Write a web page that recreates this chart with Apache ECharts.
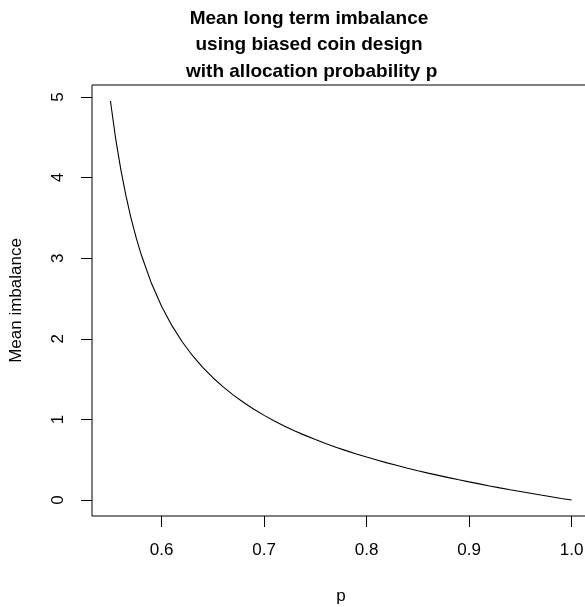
<!DOCTYPE html>
<html>
<head>
<meta charset="utf-8">
<script src="https://cdn.jsdelivr.net/npm/echarts@6/dist/echarts.min.js"></script>
<style>html,body{margin:0;padding:0;background:#fff}#c{width:585px;height:607px}</style>
</head>
<body>
<div id="c"></div>
<script>
var titleLines = ["Mean long term imbalance", "using biased coin design", " with allocation probability p"];
var xLabel = "p";
var yLabel = "Mean imbalance";
var xTicks = [0.6, 0.7, 0.8, 0.9, 1.0];
var yTicks = [0, 1, 2, 3, 4, 5];
var pValues = [0.55, 0.555, 0.56, 0.565, 0.57, 0.575, 0.58, 0.59, 0.60, 0.61, 0.62, 0.63, 0.64, 0.65, 0.66, 0.67, 0.68, 0.69, 0.70,
  0.71, 0.72, 0.73, 0.74, 0.75, 0.76, 0.77, 0.78, 0.79, 0.80, 0.81, 0.82, 0.83, 0.84, 0.85, 0.86, 0.87, 0.88, 0.89, 0.90,
  0.91, 0.92, 0.93, 0.94, 0.95, 0.96, 0.97, 0.98, 0.99, 1.00];
var imbalance = [4.95, 4.49, 4.107, 3.781, 3.501, 3.258, 3.045, 2.688, 2.40, 2.163, 1.963, 1.793, 1.646, 1.517, 1.403, 1.301, 1.209, 1.126, 1.05,
  0.981, 0.916, 0.857, 0.802, 0.75, 0.702, 0.656, 0.613, 0.572, 0.533, 0.497, 0.461, 0.428, 0.395, 0.364, 0.334, 0.306, 0.278, 0.251, 0.225,
  0.200, 0.175, 0.151, 0.128, 0.106, 0.084, 0.062, 0.041, 0.020, 0.0];

var chart = echarts.init(document.getElementById('c'), null, {renderer: 'canvas'});
var font = 'Liberation Sans, Arial, Helvetica, sans-serif';
var pts = pValues.map(function (p, i) { return [p, imbalance[i]]; });
chart.setOption({
  animation: false,
  backgroundColor: '#fff',
  title: {
    text: titleLines.join('\n'),
    left: 304, top: 0, textAlign: 'center',
    textStyle: {fontFamily: font, fontSize: 19, fontWeight: 'bold', color: '#000', lineHeight: 26.6}
  },
  grid: {left: 92, top: 85, width: 498, height: 431, show: true, borderColor: '#000', borderWidth: 1,
    backgroundColor: 'transparent', containLabel: false, outerBoundsMode: 'none'},
  xAxis: {
    type: 'value', min: 0.532, max: 1.018,
    name: xLabel, nameLocation: 'middle', nameGap: 72,
    nameTextStyle: {fontFamily: font, fontSize: 17, color: '#000'},
    axisLine: {show: false, onZero: false},
    splitLine: {show: false},
    axisTick: {show: true, inside: false, length: 11, customValues: xTicks, lineStyle: {color: '#000', width: 1}},
    axisLabel: {customValues: xTicks, margin: 26, fontFamily: font, fontSize: 17, color: '#000',
      formatter: function (v) { return v.toFixed(1); }}
  },
  yAxis: {
    type: 'value', min: -0.198, max: 5.148,
    name: yLabel, nameLocation: 'middle', nameGap: 67, nameRotate: 90,
    nameTextStyle: {fontFamily: font, fontSize: 17, color: '#000'},
    axisLine: {show: false, onZero: false},
    splitLine: {show: false},
    axisTick: {show: true, inside: false, length: 11, customValues: yTicks, lineStyle: {color: '#000', width: 1}},
    axisLabel: {customValues: yTicks, rotate: 90, margin: 25, fontFamily: font, fontSize: 17, color: '#000',
      formatter: function (v) { return String(v); }}
  },
  series: [{
    type: 'line', data: pts, showSymbol: false, symbol: 'none', smooth: false,
    lineStyle: {color: '#000', width: 1.1}, clip: true
  }]
});
</script>
</body>
</html>
